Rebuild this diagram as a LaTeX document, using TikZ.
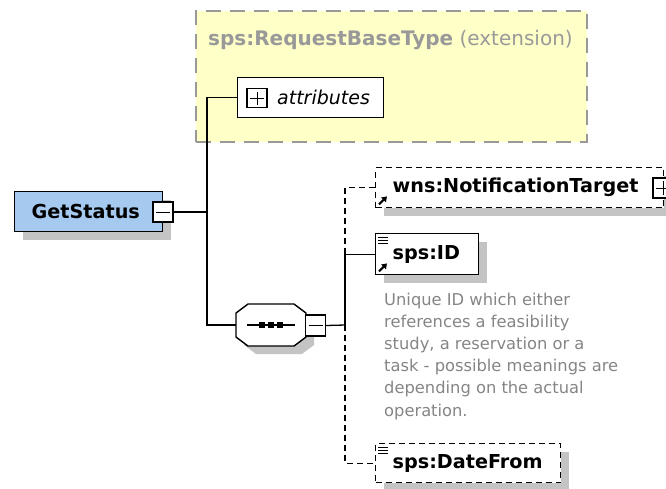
\documentclass[tikz,border=0pt]{standalone}
\usepackage{xcolor}
\usepackage{fontspec}
\setmainfont{DejaVu Sans}
\usepackage{tikz}
\usetikzlibrary{positioning, arrows.meta, shadows}
\definecolor{xsblue}{HTML}{A6C9F0}
\definecolor{xsyellow}{HTML}{FFFFC8}
\definecolor{xsgray}{HTML}{999999}
\definecolor{xsdoc}{HTML}{858585}
\definecolor{xsshadow}{HTML}{C4C4C4}
\newcommand{\elemfont}{\fontsize{19.2}{23}\selectfont\bfseries}
\newcommand{\docfont}{\fontsize{16.3}{22.2}\selectfont}

\tikzset{
  xsshade/.style={drop shadow={shadow xshift=8pt, shadow yshift=-8pt,
      fill=xsshadow, opacity=1}},
  elem/.style={draw=black, line width=1.4pt, fill=white, anchor=north west,
      inner xsep=17pt, inner ysep=0pt, minimum height=40pt, align=left,
      font=\elemfont, xsshade},
  optelem/.style={elem, dash pattern=on 6pt off 4pt},
  togglebox/.style={draw=black, line width=1.2pt, fill=white, minimum size=20pt,
      inner sep=0pt,
      path picture={\draw[line width=1pt]
        ([xshift=3pt]path picture bounding box.west) --
        ([xshift=-3pt]path picture bounding box.east);}},
  plusbox/.style={togglebox,
      path picture={\draw[line width=1pt]
        ([xshift=3pt]path picture bounding box.west) --
        ([xshift=-3pt]path picture bounding box.east)
        ([yshift=-3pt]path picture bounding box.north) --
        ([yshift=3pt]path picture bounding box.south);}},
  link/.style={line width=1.3pt},
  optlink/.style={link, dash pattern=on 6pt off 4pt},
  refarrow/.style={line width=2pt, -{Triangle[length=5pt, width=6.5pt]}},
}

\begin{document}
\begin{tikzpicture}[x=1pt, y=-1pt]
  \useasboundingbox (0,0) rectangle (666,488);

  % base type
  \node[draw=xsgray, line width=1.8pt, dash pattern=on 15pt off 9pt,
        fill=xsyellow, anchor=north west, minimum width=391pt,
        minimum height=131pt, inner sep=0pt] (extbase) at (195,10) {};
  \node[anchor=base west, inner sep=0pt, text=xsgray,
        font=\fontsize{20}{24}\selectfont] (exttitle) at (208,45)
        {\textbf{sps:RequestBaseType} (extension)};
  \node[draw=black, line width=1.4pt, fill=white, anchor=north west,
        minimum width=146pt, minimum height=40pt, inner sep=0pt] (attrs) at (237,77) {};
  \node[plusbox, minimum height=19pt] (attrsplus) at (257,98) {};
  \node[anchor=west, inner sep=0pt, font=\fontsize{19}{23}\selectfont\itshape]
        (attrstext) at (277,97) {attributes};

  % root element
  \node[elem, fill=xsblue, text width=114pt] (getstatus) at (14,191) {GetStatus};
  \node[togglebox] (gsminus) at (163,212) {};

  % sequence
  \node[minimum width=70pt, minimum height=42pt, inner sep=0pt] (seq) at (271,325) {};
  \fill[xsshadow] (256,312) -- (302,312) -- (314,321) -- (314,345) -- (302,354)
    -- (256,354) -- (244,345) -- (244,321) -- cycle;
  \filldraw[fill=white, line width=1.4pt] (248,304) -- (294,304) -- (306,313)
    -- (306,337) -- (294,346) -- (248,346) -- (236,337) -- (236,313) -- cycle;
  \draw[line width=1.2pt] ([xshift=-24pt]seq.center) -- ([xshift=24pt]seq.center);
  \foreach \dx in {-9,0,9}
    \fill ([xshift=\dx pt]seq.center) ++(-2.6,-2.6) rectangle ++(5.2,5.2);
  \node[togglebox, minimum height=21pt] (seqminus) at (315.5,325.5) {};

  % children
  \node[optelem, text width=254pt] (notif) at (375,167) {wns:NotificationTarget};
  \node[plusbox] (notifplus) at (663,188) {};
  \node[elem, text width=69pt, minimum height=41pt] (spsid) at (375,233) {sps:ID};
  \node[anchor=north west, inner sep=0pt, align=left, text=xsdoc, font=\docfont]
        (iddoc) at (384,292.6) {Unique ID which either\\references a feasibility\\%
        study, a reservation or a\\task - possible meanings are\\%
        depending on the actual\\operation.};
  \node[optelem, text width=151pt, minimum height=39pt] (datefrom) at (375,443)
        {sps:DateFrom};

  % icons
  \foreach \n in {notif,spsid}
    \draw[refarrow] ([shift={(4,-4)}]\n.south west) -- ++(8,-8);
  \foreach \n in {spsid,datefrom}
    \foreach \dy in {4,7,10}
      \draw[line width=1pt] ([shift={(3,\dy)}]\n.north west) -- ++(10,0);

  % connectors
  \coordinate (fork) at (207,212);
  \coordinate (seqfork) at (345,325);
  \draw[link] (gsminus.east) -- (fork);
  \draw[link] (attrs.west) -| (fork) |- (seq.west);
  \draw[link] (seqminus.east) -- (seqfork);
  \draw[link] (seqfork) |- (spsid.west);
  \draw[optlink] (spsid.west -| seqfork) |- (notif.west);
  \draw[optlink] (seqfork) |- (datefrom.west);
\end{tikzpicture}
\end{document}
